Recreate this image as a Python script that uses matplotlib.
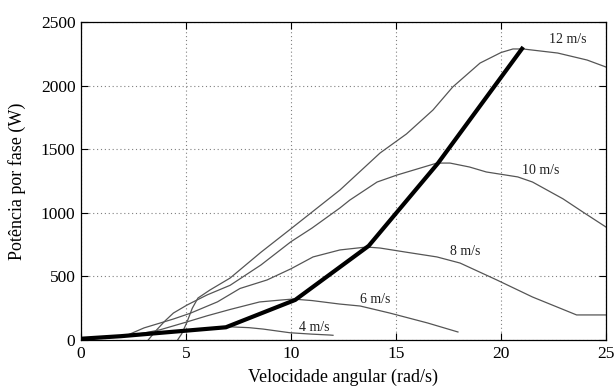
import matplotlib
matplotlib.use("Agg")
import matplotlib.pyplot as plt

# ---- data ----
w4 = [0.0, 1.0, 2.0, 3.0, 4.0, 5.0, 6.0, 6.9, 8.0, 8.67, 9.95, 11.0, 11.86, 12.0]
p4 = [0, 15, 32, 48, 63, 78, 92, 105, 97, 86, 57, 46, 39, 37]

w6 = [2.0, 3.0, 3.76, 5.0, 6.0, 7.1, 8.5, 9.5, 10.1, 11.0, 12.3, 13.3, 14.7, 16.5, 17.95]
p6 = [30, 55, 80, 140, 190, 240, 299, 314, 322, 310, 283, 267, 212, 134, 63]

w8 = [2.3, 3.0, 3.7, 4.4, 5.2, 6.5, 7.57, 8.86, 10.0, 11.05, 12.33, 13.6, 14.24, 15.5,
      16.95, 18.05, 19.8, 21.5, 23.6, 25.0]
p8 = [45, 95, 130, 165, 210, 300, 405, 472, 560, 653, 708, 731, 723, 690,
      653, 605, 472, 338, 197, 197]

w10 = [3.2, 3.6, 4.0, 4.4, 5.05, 6.0, 7.1, 8.57, 10.0, 11.0, 12.33, 12.8, 14.1, 15.05,
       16.95, 17.57, 18.5, 19.3, 20.8, 21.5, 22.95, 23.9, 25.0]
p10 = [0, 79, 150, 212, 275, 354, 430, 590, 773, 880, 1038, 1100, 1242, 1297,
       1391, 1391, 1360, 1321, 1282, 1242, 1110, 1006, 888]

w12 = [4.6, 4.8, 5.05, 5.3, 5.57, 6.14, 7.1, 8.57, 10.0, 12.33, 14.24, 15.5, 16.76,
       17.7, 19.0, 20.0, 20.57, 21.05, 22.7, 24.1, 25.0]
p12 = [0, 50, 142, 250, 330, 393, 487, 690, 875, 1179, 1470, 1620, 1808,
       1989, 2177, 2260, 2288, 2288, 2256, 2201, 2146]

w_mpp = [0.0, 1.9, 6.9, 10.2, 13.7, 17.0, 21.0]
p_mpp = [10, 30, 100, 315, 740, 1390, 2290]

labels = ["4 m/s", "6 m/s", "8 m/s", "10 m/s", "12 m/s"]
label_pos = [(11.1, 100), (14.0, 320), (18.3, 695), (21.9, 1335), (23.2, 2360)]

xticks = [0, 5, 10, 15, 20, 25]
yticks = [0, 500, 1000, 1500, 2000, 2500]

# ---- figure ----
plt.rcParams['font.family'] = ['Liberation Serif', 'DejaVu Serif']
fig = plt.figure(figsize=(6.14, 3.90), dpi=100)
ax = fig.add_axes([81/614, 50/390, 525/614, 318/390])

thin = dict(color='#555555', lw=0.9)
for w, p in [(w4, p4), (w6, p6), (w8, p8), (w10, p10), (w12, p12)]:
    ax.plot(w, p, **thin)
ax.plot(w_mpp, p_mpp, color='black', lw=3.0, solid_joinstyle='miter')

for txt, (x, y) in zip(labels, label_pos):
    ax.text(x, y, txt, fontsize=10, ha='center', va='center', color='#202020')

ax.set_xlim(0, 25)
ax.set_ylim(0, 2500)
ax.set_xticks(xticks)
ax.set_yticks(yticks)
ax.grid(True, linestyle=(0, (1, 2.5)), color='#808080', lw=0.8)
ax.tick_params(direction='in', length=5, top=True, right=True, labelsize=12.5, pad=4)
for s in ax.spines.values():
    s.set_linewidth(0.9)
ax.set_xlabel('Velocidade angular (rad/s)', fontsize=13, labelpad=5)
ax.set_ylabel('Potência por fase (W)', fontsize=13, labelpad=11)

fig.savefig('out.png', dpi=100)
